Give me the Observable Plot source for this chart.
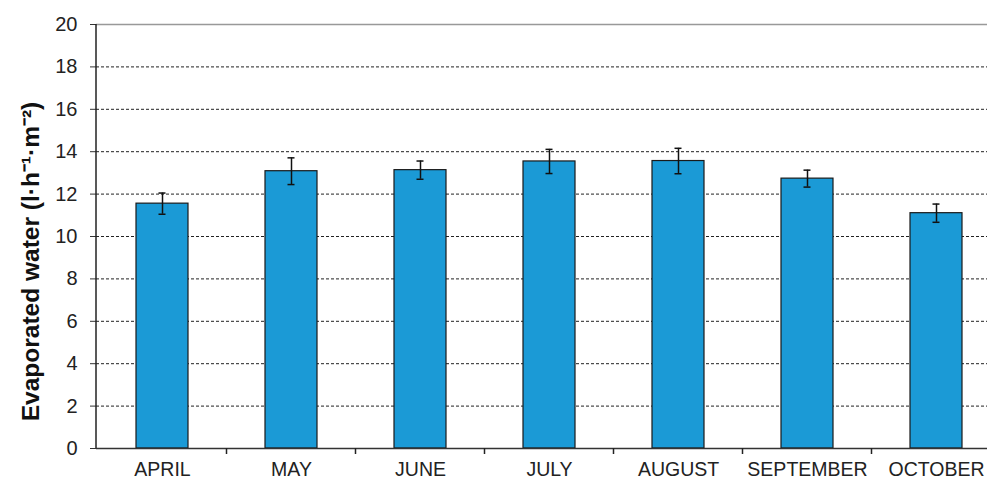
<!DOCTYPE html>
<html>
<head>
<meta charset="utf-8">
<script src="https://cdn.jsdelivr.net/npm/d3@7"></script>
<script src="https://cdn.jsdelivr.net/npm/@observablehq/plot@0.6"></script>
<style>
  html, body { margin: 0; padding: 0; background: #fff; }
  svg { font-family: "Liberation Sans", Arial, sans-serif; }
</style>
</head>
<body>
<div id="chart"></div>
<script>
const months = ["APRIL", "MAY", "JUNE", "JULY", "AUGUST", "SEPTEMBER", "OCTOBER"];
const values = [11.55, 13.08, 13.13, 13.54, 13.56, 12.73, 11.1];
const errors = [0.5, 0.63, 0.43, 0.57, 0.6, 0.4, 0.43];
const yTicks = [0, 2, 4, 6, 8, 10, 12, 14, 16, 18, 20];
const yTitle = "Evaporated water (l·h⁻¹·m⁻²)";

const data = months.map((m, i) => ({month: m, value: values[i], lo: values[i] - errors[i], hi: values[i] + errors[i]}));

const plot = Plot.plot({
  width: 987,
  height: 479,
  marginTop: 24,
  marginBottom: 31,
  marginLeft: 96,
  marginRight: 0,
  style: {fontFamily: "'Liberation Sans', Arial, sans-serif", color: "#222"},
  x: {domain: months, range: [96, 1002], paddingInner: 0.6, paddingOuter: 0.3, align: 0.5},
  y: {domain: [0, 20], range: [448, 24]},
  marks: [
    Plot.gridY(yTicks.filter(d => d > 0 && d < 20), {stroke: "#222", strokeOpacity: 1, strokeDasharray: "3,2", strokeWidth: 1}),
    Plot.ruleY([20], {stroke: "#999", strokeWidth: 1.5}),
    Plot.barY(data, {x: "month", y: "value", fill: "#1b9ad6", stroke: "#1a1a1a", strokeWidth: 1.2}),
    Plot.ruleX(data, {x: "month", y1: "lo", y2: "hi", stroke: "#111", strokeWidth: 1.5}),
    Plot.tickY(data, {x: "month", y: "lo", stroke: "#111", strokeWidth: 1.5, insetLeft: 22.5, insetRight: 22.5}),
    Plot.tickY(data, {x: "month", y: "hi", stroke: "#111", strokeWidth: 1.5, insetLeft: 22.5, insetRight: 22.5}),
    Plot.ruleY([0], {stroke: "#333", strokeWidth: 1.5}),
    Plot.axisY({ticks: yTicks, tickSize: 6, tickPadding: 13, fontSize: 20, label: null, stroke: "#333", color: "#222"}),
    Plot.axisX({tickSize: 0, tickPadding: 14, fontSize: 19.5, label: null, color: "#222"}),
    Plot.text([yTitle], {frameAnchor: "left", textAnchor: "middle", dx: -65, dy: 25, rotate: -90, fontSize: 24.5, fontWeight: "bold", fill: "#111"})
  ]
});

// left axis line and x-axis boundary ticks, positioned through the x and y scales
const sx = plot.scale("x");
const sy = plot.scale("y");
const step = sx.step ?? (sx.range[1] - sx.range[0]) / months.length;
const bw = sx.bandwidth ?? step * 0.4;
const svg = d3.select(plot);
const g = svg.append("g").attr("stroke", "#222").attr("stroke-width", 1.5);
const left = sx.range[0];
g.append("line").attr("x1", left).attr("x2", left).attr("y1", sy.apply(0)).attr("y2", sy.apply(20));
const boundaries = months.map(m => sx.apply(m) - (step - bw) / 2);
boundaries.slice(1).forEach(x => {
  g.append("line").attr("x1", x).attr("x2", x).attr("y1", sy.apply(0)).attr("y2", sy.apply(0) + 6);
});

document.getElementById("chart").appendChild(plot);
</script>
</body>
</html>
